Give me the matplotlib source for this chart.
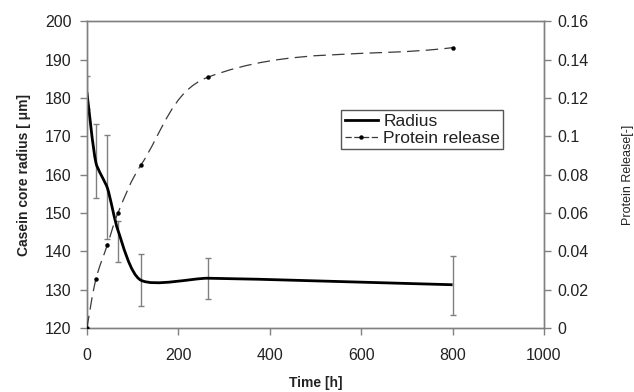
import matplotlib
matplotlib.use("Agg")
import matplotlib.pyplot as plt
from matplotlib.path import Path
from matplotlib.patches import PathPatch
from matplotlib.lines import Line2D
import numpy as np

# Casein core radius (left axis) with error bars
radius_time = [0, 20, 45, 68, 118, 265, 800]
radius = [181.5, 163.0, 156.5, 145.5, 132.5, 133.0, 131.3]
radius_err_low = [4.3, 9.0, 13.3, 8.3, 6.8, 5.5, 7.8]
radius_err_high = [4.3, 10.2, 13.9, 2.3, 6.7, 5.2, 7.5]

# Protein release (right axis)
release_time = [0, 20, 45, 68, 118, 265, 800]
release = [0.0, 0.0257, 0.0435, 0.060, 0.0849, 0.1308, 0.1462]

x_ticks = [0, 200, 400, 600, 800, 1000]
left_ticks = [120, 130, 140, 150, 160, 170, 180, 190, 200]
right_ticks = [0, 0.02, 0.04, 0.06, 0.08, 0.1, 0.12, 0.14, 0.16]
right_labels = ["0", "0.02", "0.04", "0.06", "0.08", "0.1", "0.12", "0.14", "0.16"]

GREY = "#808080"
TEXT = "#222222"

plt.rcParams["font.family"] = ["Liberation Sans", "DejaVu Sans"]


def smooth_path(xs, ys, sx, sy, a=0.35):
    """Smoothed line like a spreadsheet chart: Bezier segments whose
    handles follow the neighbour direction, sized by the segment length
    (worked out in screen-like units sx, sy per data unit)."""
    pts = np.column_stack([np.asarray(xs) * sx, np.asarray(ys) * sy])
    n = len(pts)

    def unit(v):
        return v / np.hypot(*v)

    verts = [pts[0]]
    codes = [Path.MOVETO]
    for i in range(n - 1):
        p1, p2 = pts[i], pts[i + 1]
        length = np.hypot(*(p2 - p1))
        d1 = unit(p2 - pts[i - 1]) if i > 0 else unit(p2 - p1)
        d2 = unit(pts[i + 2] - p1) if i + 2 < n else unit(p2 - p1)
        verts += [p1 + d1 * length * a, p2 - d2 * length * a, p2]
        codes += [Path.CURVE4] * 3
    verts = np.array(verts) / [sx, sy]
    return Path(verts, codes)


fig = plt.figure(figsize=(6.34, 3.92), dpi=100)
ax = fig.add_axes([0.137, 0.163, 0.721, 0.783])
ax2 = ax.twinx()

ax.set_xlim(0, 1000)
ax.set_ylim(120, 200)
ax2.set_ylim(0, 0.16)

# screen pixels per data unit, used for the smoothing
bbox = ax.get_window_extent()
sx = bbox.width / 1000
sy_left = bbox.height / 80
sy_right = bbox.height / 0.16

# radius curve + error bars
ax.add_patch(PathPatch(smooth_path(radius_time, radius, sx, sy_left, a=0.22),
                       fill=False, edgecolor="black", linewidth=2.0,
                       zorder=3))
ax.errorbar(radius_time, radius, yerr=[radius_err_low, radius_err_high],
            fmt="none", ecolor=GREY, elinewidth=1.0, capsize=2.5,
            capthick=1.0, zorder=2)

# protein release curve
ax2.add_patch(PathPatch(smooth_path(release_time, release, sx, sy_right),
                        fill=False, edgecolor="#3a3a3a", linewidth=0.9,
                        linestyle=(0, (10, 5)), zorder=3))
ax2.plot(release_time, release, linestyle="none", marker="o",
         markersize=2.2, color="black", zorder=4)

ax.set_xticks(x_ticks)
ax.set_yticks(left_ticks)
ax2.set_yticks(right_ticks)
ax2.set_yticklabels(right_labels)

for a in (ax, ax2):
    for s in a.spines.values():
        s.set_color(GREY)
        s.set_linewidth(1.0)
    a.tick_params(colors=GREY, labelcolor=TEXT, labelsize=11.5,
                  direction="out", length=5, width=1.0)
ax.tick_params(axis="x", pad=9)
ax.tick_params(axis="y", pad=6)
ax2.tick_params(axis="y", pad=5)

ax.set_xlabel("Time [h]", fontsize=10, fontweight="bold", color=TEXT,
              labelpad=10)
ax.set_ylabel("Casein core radius [ μm]", fontsize=10, fontweight="bold",
              color=TEXT, labelpad=10)
ax2.set_ylabel("Protein Release[-]", fontsize=9, color=TEXT, labelpad=24)

handles = [
    Line2D([], [], color="black", linewidth=2.0),
    Line2D([], [], color="#3a3a3a", linewidth=0.9, linestyle=(0, (5, 2)),
           marker="o", markersize=2.2, markerfacecolor="black",
           markeredgecolor="black"),
]
leg = ax.legend(handles, ["Radius", "Protein release"], loc="upper left",
                bbox_to_anchor=(0.557, 0.71), fontsize=12.5, frameon=True,
                fancybox=False, framealpha=1, edgecolor="#555555",
                handlelength=1.9, handletextpad=0.3, borderpad=0.2,
                labelspacing=0.1, borderaxespad=0)
leg.get_frame().set_linewidth(1.0)
for t in leg.get_texts():
    t.set_color(TEXT)

fig.savefig("out.png", dpi=100)
